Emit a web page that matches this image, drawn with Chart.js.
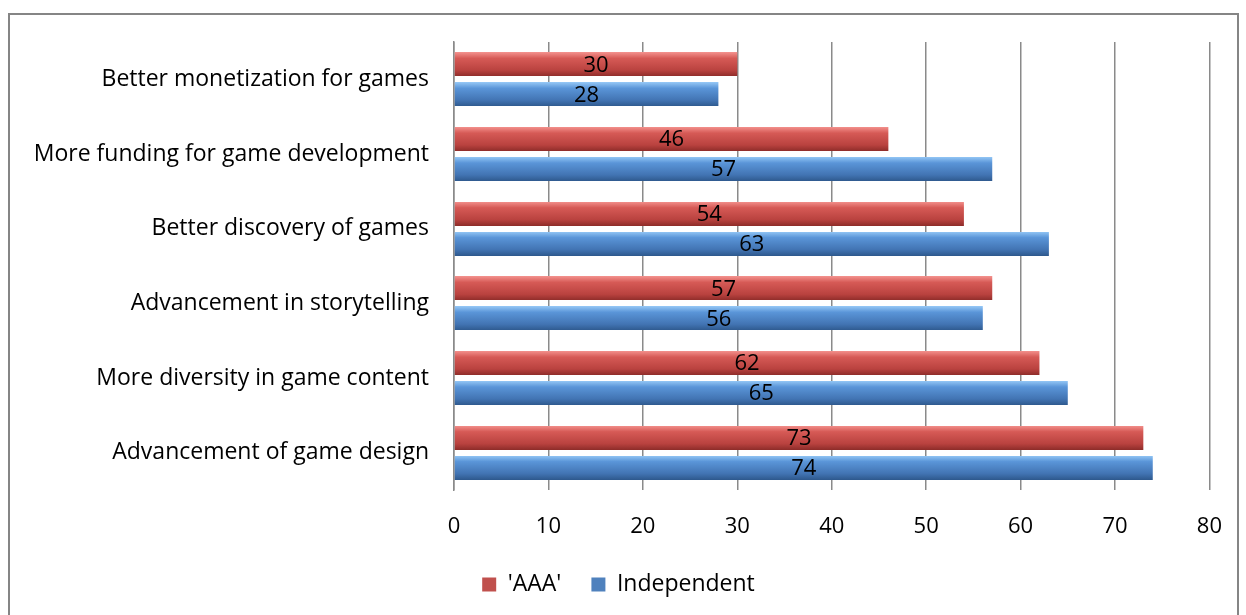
<!DOCTYPE html>
<html>
<head>
<meta charset="utf-8">
<script src="https://cdn.jsdelivr.net/npm/chart.js@4"></script>
<style>
  html, body { margin: 0; padding: 0; background: #fff; }
  #wrap { position: relative; width: 1246px; height: 615px; overflow: hidden; }
</style>
</head>
<body>
<div id="wrap"><canvas id="chart" width="1246" height="615"></canvas></div>
<script>
const categories = [
    'Better monetization for games',
    'More funding for game development',
    'Better discovery of games',
    'Advancement in storytelling',
    'More diversity in game content',
    'Advancement of game design'
];
const aaaValues = [30, 46, 54, 57, 62, 73];
const indieValues = [28, 57, 63, 56, 65, 74];
const seriesNames = ["'AAA'", 'Independent'];
const xTicks = [0, 10, 20, 30, 40, 50, 60, 70, 80];

const FONT = '"Open Sans"';

// bevel-ish gradient for each bar, top light -> bottom dark
const barShade = {
    id: 'barShade',
    beforeDatasetsDraw(chart) {
        const ctx = chart.ctx;
        const tones = [
            ['#f28f8b', '#d65a56', '#b9423f', '#8f2d2a'],
            ['#93c6f5', '#5a95d8', '#4274b3', '#2f5a8f']
        ];
        chart.data.datasets.forEach((ds, i) => {
            chart.getDatasetMeta(i).data.forEach(bar => {
                const top = bar.y - bar.height / 2;
                const g = ctx.createLinearGradient(0, top, 0, top + bar.height);
                const t = tones[i];
                g.addColorStop(0, 'rgba(0,0,0,0)');
                g.addColorStop(0.099, 'rgba(0,0,0,0)');
                g.addColorStop(0.1, t[0]);
                g.addColorStop(0.3, t[1]);
                g.addColorStop(0.7, t[2]);
                g.addColorStop(0.9, t[3]);
                g.addColorStop(0.901, 'rgba(0,0,0,0)');
                g.addColorStop(1, 'rgba(0,0,0,0)');
                bar.options.backgroundColor = g;
            });
        });
    }
};

// value labels in the middle of each bar
const barLabels = {
    id: 'barLabels',
    afterDatasetsDraw(chart) {
        const ctx = chart.ctx;
        ctx.save();
        ctx.font = '22px ' + FONT;
        ctx.fillStyle = '#000';
        ctx.textAlign = 'center';
        ctx.textBaseline = 'middle';
        chart.data.datasets.forEach((ds, i) => {
            chart.getDatasetMeta(i).data.forEach((bar, j) => {
                const x = (bar.base + bar.x) / 2;
                ctx.fillText(ds.data[j], x, bar.y + 1);
            });
        });
        ctx.restore();
    }
};

// frame around the chart
const frame = {
    id: 'frame',
    beforeDraw(chart) {
        const ctx = chart.ctx;
        ctx.save();
        ctx.strokeStyle = '#858585';
        ctx.lineWidth = 2;
        ctx.beginPath();
        ctx.moveTo(9, 640);
        ctx.lineTo(9, 14);
        ctx.lineTo(1238, 14);
        ctx.lineTo(1238, 640);
        ctx.stroke();
        ctx.restore();
    }
};

new Chart(document.getElementById('chart'), {
    type: 'bar',
    data: {
        labels: categories,
        datasets: [
            {
                label: seriesNames[0],
                data: aaaValues,
                // scriptable so each bar gets its own options object
                backgroundColor: () => '#c0504d',
                borderWidth: 0
            },
            {
                label: seriesNames[1],
                data: indieValues,
                backgroundColor: () => '#4f81bd',
                borderWidth: 0
            }
        ]
    },
    options: {
        indexAxis: 'y',
        responsive: false,
        animation: false,
        categoryPercentage: 0.8,
        barPercentage: 1.0,
        layout: { padding: { top: 42, right: 29, bottom: 9, left: 20 } },
        scales: {
            x: {
                min: 0,
                max: 80,
                afterBuildTicks: scale => { scale.ticks = xTicks.map(v => ({ value: v })); },
                afterFit: scale => { scale.height = 53; },
                grid: { color: '#8a8a8a', lineWidth: 1.5, drawTicks: false },
                border: { display: false },
                ticks: { color: '#000', font: { family: FONT, size: 22 }, padding: 24 }
            },
            y: {
                grid: { display: false },
                border: { display: true, color: '#8a8a8a', width: 1.5 },
                afterFit: scale => { scale.width = 434; },
                ticks: { color: '#000', font: { family: FONT, size: 23 }, padding: 17 }
            }
        },
        plugins: {
            legend: {
                position: 'bottom',
                labels: {
                    color: '#000',
                    font: { family: FONT, size: 23 },
                    boxWidth: 14,
                    boxHeight: 14,
                    padding: 30
                }
            },
            tooltip: { enabled: false }
        }
    },
    plugins: [frame, barShade, barLabels]
});
</script>
</body>
</html>
